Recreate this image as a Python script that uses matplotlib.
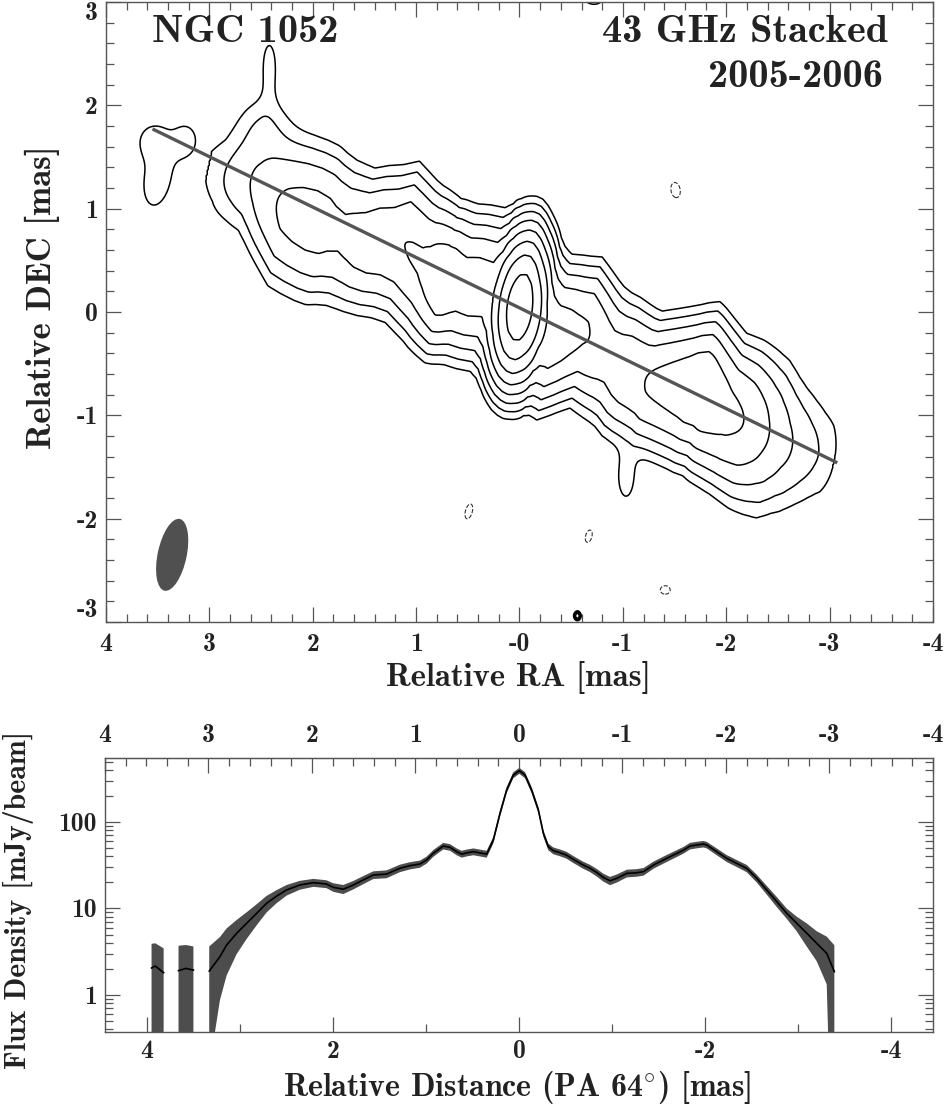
import numpy as np
import matplotlib
matplotlib.use('Agg')
import matplotlib.pyplot as plt
from matplotlib.patches import Ellipse
from matplotlib.ticker import FixedLocator, FixedFormatter, MultipleLocator, LogLocator, NullFormatter

plt.rcParams['axes.unicode_minus'] = False
plt.rcParams['mathtext.fontset'] = 'cm'
FONT = ['cmb10', 'DejaVu Serif']
nan = np.nan

# ---------------- profile along the jet (PA 64 deg) ----------------
PROF_D = [3.95, 3.91, 3.82, nan, 3.66, 3.58, 3.50, nan,
          3.33, 3.215, 3.143, 3.035, 2.928, 2.82, 2.713, 2.606, 2.498, 2.355,
          2.21, 2.07, 1.997, 1.889, 1.781, 1.674, 1.566, 1.423, 1.28, 1.172,
          1.065, 0.993, 0.921, 0.814, 0.742, 0.67, 0.616, 0.562, 0.491, 0.42,
          0.347, 0.276, 0.204, 0.133, 0.061, -0.004, -0.065, -0.136, -0.208,
          -0.262, -0.315, -0.369, -0.44, -0.51, -0.584, -0.69, -0.763, -0.84,
          -0.906, -0.978, -1.05, -1.16, -1.265, -1.34, -1.445, -1.55, -1.66,
          -1.767, -1.839, -1.91, -1.982, -2.018, -2.126, -2.233, -2.34, -2.448,
          -2.556, -2.663, -2.771, -2.878, -2.986, -3.094, -3.2, -3.308, -3.39]
PROF_F = [2.05, 2.16, 1.81, nan, 1.91, 2.03, 1.94, nan,
          1.89, 2.77, 3.78, 5.17, 6.74, 8.8, 11.5, 13.9, 16.4, 18.7,
          19.9, 19.2, 17.6, 16.7, 18.7, 21.4, 24.4, 25.0, 29.2, 31.3,
          32.7, 36.4, 43.5, 52.8, 51.0, 45.4, 42.6, 44.0, 45.4, 44.0,
          42.6, 61.9, 126, 234, 349, 392, 349, 234, 138,
          74, 51.8, 46.6, 44.2, 41.5, 37.0, 31.8, 29.2, 25.9,
          22.9, 20.9, 22.3, 25.5, 25.9, 26.7, 31.8, 36.3, 41.5,
          47.2, 52.8, 54.3, 55.6, 54.3, 45.4, 38.0, 33.3, 29.1,
          22.3, 16.4, 12.0, 8.8, 6.74, 5.17, 3.96, 3.03, 1.86]
PROF_ERR = [1.85, 1.8, 1.65, nan, 1.8, 1.75, 1.7, nan,
            1.75, 1.9, 2.1, 2.2, 2.3, 2.4, 2.5, 2.4, 2.3, 2.2,
            2.1, 2.0, 2.0, 2.0, 2.1, 2.3, 2.5, 2.6, 2.9, 3.0,
            3.1, 3.4, 3.9, 4.6, 4.5, 4.1, 3.9, 4.0, 4.1, 4.0,
            3.9, 5.4, 10.5, 19, 28, 31, 28, 19, 11.5,
            6.3, 4.6, 4.2, 4.0, 3.8, 3.4, 3.0, 2.8, 2.6,
            2.4, 2.3, 2.4, 2.6, 2.6, 2.7, 3.0, 3.4, 3.8,
            4.2, 4.6, 4.7, 4.8, 4.7, 4.1, 3.5, 3.1, 2.8,
            2.3, 1.9, 1.6, 1.2, 1.3, 1.55, 1.5, 1.7, 1.9]

# ---------------- map model (ridge along the jet + extra components) ----------------
CONTOUR_LEVELS = [1.9, 3.8, 7.6, 15.2, 30.4, 60.8, 121.6, 243.2]
NEG_LEVELS = [-1.9]
JET_PA = 64.0
BEAM_PA = -12.0
BEAM_MAJ = 0.71
BEAM_MIN = 0.28
BEAM_CENTER = (3.36, -2.35)
JET_ORIGIN = (0.0, 0.04)
LINE_D = [3.95, -3.42]
RIDGE_MAX_D = 3.4

RIDGE_KNOT_D = [-3.45, -3.27, -2.96, -2.75, -2.27, -1.94, -1.40, -1.07, -0.70, -0.40,
                0.00, 0.25, 0.80, 1.00, 1.28, 1.70, 2.10, 2.50, 2.90, 3.20, 3.40]
RIDGE_OFFSET = [-0.01, -0.01, -0.07, -0.07, -0.04, 0.07, -0.11, -0.08, 0.07, -0.11,
                0.01, 0.05, -0.09, -0.04, 0.08, -0.09, -0.12, -0.14, -0.02, -0.10, -0.10]
RIDGE_WIDTH = [0.80, 0.80, 0.88, 0.93, 0.78, 0.78, 0.70, 0.74, 0.74, 0.76,
               0.77, 0.77, 0.74, 0.78, 0.80, 0.76, 0.85, 0.85, 0.74, 0.73, 0.73]

COMP_RA = [2.48, 2.42, -1.03, 3.50, 3.22, 3.55, -0.72, -0.56, -1.51, 0.49, -0.67, -1.41]
COMP_DEC = [1.82, 2.38, -1.62, 1.30, 1.66, 1.66, 3.03, -2.94, 1.18, -1.93, -2.17, -2.69]
COMP_AMP = [2.6, 2.6, 2.6, 2.7, 2.5, 2.5, 2.5, 30.0, -2.5, -2.5, -2.4, -2.4]
COMP_SX = [0.17, 0.07, 0.08, 0.15, 0.10, 0.11, 0.11, 0.015, 0.06, 0.045, 0.045, 0.07]
COMP_SY = [0.20, 0.25, 0.20, 0.32, 0.14, 0.12, 0.07, 0.02, 0.10, 0.10, 0.09, 0.06]
COMP_PA = [0, 0, 0, -10, 0, 0, 0, 0, 10, -15, -15, 0]

RA_TICKS = [4, 3, 2, 1, 0, -1, -2, -3, -4]
RA_TICK_LABELS = ['4', '3', '2', '1', '-0', '-1', '-2', '-3', '-4']
DEC_TICKS = [-3, -2, -1, 0, 1, 2, 3]
DEC_TICK_LABELS = ['-3', '-2', '-1', '0', '1', '2', '3']
TOP_RA_LABELS = ['4', '3', '2', '1', '0', '-1', '-2', '-3', '-4']
DIST_TICKS = [4, 2, 0, -2, -4]
DIST_TICK_LABELS = ['4', '2', '0', '-2', '-4']
FLUX_TICKS = [1, 10, 100]
FLUX_TICK_LABELS = ['1', '10', '100']

# ---------------- build the model image ----------------
pd_arr = np.array(PROF_D, float)
pf_arr = np.array(PROF_F, float)
pe_arr = np.array(PROF_ERR, float)
ok = np.isfinite(pd_arr) & (pd_arr <= RIDGE_MAX_D)
rd = pd_arr[ok][::-1]
rf = pf_arr[ok][::-1]

ra_g = np.linspace(4.2, -4.2, 841)
dec_g = np.linspace(-3.2, 3.2, 641)
RA, DEC = np.meshgrid(ra_g, dec_g)
jp = np.radians(JET_PA)
bp = np.radians(BEAM_PA)
ux, uy = np.sin(jp), np.cos(jp)
bx, by = np.sin(bp), np.cos(bp)
det = ux * by - uy * bx
X = RA - JET_ORIGIN[0]
Y = DEC - JET_ORIGIN[1]
D = (X * by - Y * bx) / det
S = (ux * Y - uy * X) / det
F = np.interp(D, rd, rf, left=0.0, right=0.0)
S0 = np.interp(D, RIDGE_KNOT_D, RIDGE_OFFSET)
W = np.interp(D, RIDGE_KNOT_D, RIDGE_WIDTH)
A = F * 2.0 ** (4 * S0 ** 2 / W ** 2)
img = A * 2.0 ** (-4 * (S - S0) ** 2 / W ** 2)
for r0, d0, a, sx, sy, pa in zip(COMP_RA, COMP_DEC, COMP_AMP, COMP_SX, COMP_SY, COMP_PA):
    p = np.radians(pa)
    dx, dy = RA - r0, DEC - d0
    along = dx * np.sin(p) + dy * np.cos(p)
    across = dx * np.cos(p) - dy * np.sin(p)
    img = img + a * np.exp(-0.5 * ((across / sx) ** 2 + (along / sy) ** 2))

# ---------------- figure ----------------
W_PX, H_PX = 953, 1105
fig = plt.figure(figsize=(W_PX / 100, H_PX / 100), dpi=100)
ax = fig.add_axes([106 / W_PX, 1 - 622 / H_PX, 827 / W_PX, 620 / H_PX])
ax2 = fig.add_axes([105 / W_PX, 1 - 1032 / H_PX, 828 / W_PX, 274 / H_PX])

spine_c = '#555555'
lab_c = '#222222'

ax.contour(RA, DEC, img, levels=CONTOUR_LEVELS, colors='k', linewidths=1.1)
ax.contour(RA, DEC, img, levels=NEG_LEVELS, colors='#333333', linewidths=0.8,
           linestyles='dashed')
ld = np.array(LINE_D)
ax.plot(JET_ORIGIN[0] + ld * ux, JET_ORIGIN[1] + ld * uy, color='#555555', lw=2.4,
        solid_capstyle='butt', zorder=5)
ax.add_patch(Ellipse(BEAM_CENTER, width=BEAM_MIN, height=BEAM_MAJ, angle=-BEAM_PA,
                     facecolor='#505050', edgecolor='none', zorder=4))
ax.set_xlim(4, -4)
ax.set_ylim(-3, 3)
ax.xaxis.set_major_locator(FixedLocator(RA_TICKS))
ax.xaxis.set_major_formatter(FixedFormatter(RA_TICK_LABELS))
ax.yaxis.set_major_locator(FixedLocator(DEC_TICKS))
ax.yaxis.set_major_formatter(FixedFormatter(DEC_TICK_LABELS))
ax.xaxis.set_minor_locator(MultipleLocator(0.2))
ax.yaxis.set_minor_locator(MultipleLocator(0.2))
ax.tick_params(which='both', direction='in', top=True, right=True, color=spine_c,
               labelcolor=lab_c, width=0.9)
ax.tick_params(which='major', length=11)
ax.tick_params(which='minor', length=6)
ax.tick_params(axis='x', which='major', pad=8)
ax.tick_params(axis='y', which='major', pad=6)
for t in ax.get_xticklabels() + ax.get_yticklabels():
    t.set_family(FONT)
    t.set_fontsize(18.5)
ylabs = ax.get_yticklabels()
ylabs[0].set_va('bottom')
ylabs[-1].set_va('top')
for sp in ax.spines.values():
    sp.set_color(spine_c)
    sp.set_linewidth(1.0)

ax.text(0.056, 0.95, 'NGC 1052', transform=ax.transAxes, family=FONT, fontsize=29,
        ha='left', va='center', color=lab_c)
ax.text(0.946, 0.95, '43 GHz Stacked', transform=ax.transAxes, family=FONT, fontsize=29,
        ha='right', va='center', color=lab_c)
ax.text(0.94, 0.879, '2005-2006', transform=ax.transAxes, family=FONT, fontsize=29,
        ha='right', va='center', color=lab_c)

# ---------------- profile panel ----------------
s64 = np.sin(jp)
lower = np.clip(pf_arr - pe_arr, 1e-3, None)
lower[~np.isfinite(pf_arr)] = nan
upper = pf_arr + pe_arr
ax2.fill_between(pd_arr, lower, upper, color='#4d4d4d', lw=0)
ax2.plot(pd_arr, pf_arr, color='k', lw=1.2)
ax2.set_yscale('log')
ax2.set_xlim(4 / s64, -4 / s64)
ax2.set_ylim(0.373, 550)
ax2.xaxis.set_major_locator(FixedLocator(DIST_TICKS))
ax2.xaxis.set_major_formatter(FixedFormatter(DIST_TICK_LABELS))
ax2.xaxis.set_minor_locator(MultipleLocator(1))
ax2.yaxis.set_major_locator(FixedLocator(FLUX_TICKS))
ax2.yaxis.set_major_formatter(FixedFormatter(FLUX_TICK_LABELS))
ax2.yaxis.set_minor_locator(LogLocator(base=10, subs=np.arange(2, 10)))
ax2.yaxis.set_minor_formatter(NullFormatter())
ax2.tick_params(which='both', direction='in', right=True, top=False, color=spine_c,
                labelcolor=lab_c, width=0.9)
ax2.tick_params(which='major', length=11)
ax2.tick_params(which='minor', length=6)
ax2.tick_params(axis='x', which='major', pad=6)
ax2.tick_params(axis='y', which='major', pad=6)
for t in ax2.get_xticklabels() + ax2.get_yticklabels():
    t.set_family(FONT)
    t.set_fontsize(18.5)
for sp in ax2.spines.values():
    sp.set_color(spine_c)
    sp.set_linewidth(1.0)

sec = ax2.secondary_xaxis('top', functions=(lambda d: d * s64, lambda r: r / s64))
sec.xaxis.set_major_locator(FixedLocator(RA_TICKS))
sec.xaxis.set_major_formatter(FixedFormatter(TOP_RA_LABELS))
sec.xaxis.set_minor_locator(MultipleLocator(0.2))
sec.tick_params(which='both', direction='in', color=spine_c, labelcolor=lab_c, width=0.9)
sec.tick_params(which='major', length=11, pad=8)
sec.tick_params(which='minor', length=6)
sec.spines['top'].set_color(spine_c)
for t in sec.get_xticklabels():
    t.set_family(FONT)
    t.set_fontsize(18.5)

# ---------------- axis labels ----------------
fig.text(518 / W_PX, 1 - 677 / H_PX, 'Relative RA [mas]', family=FONT, fontsize=23.5,
         ha='center', va='center', color=lab_c)
fig.text(42 / W_PX, 1 - 297 / H_PX, 'Relative DEC [mas]', family=FONT, fontsize=25,
         ha='center', va='center', rotation=90, color=lab_c)
fig.text(517 / W_PX, 1 - 1096 / H_PX, r'Relative Distance (PA 64$^{\circ}$) [mas]',
         family=FONT, fontsize=23, ha='center', va='baseline', color=lab_c)
fig.text(18 / W_PX, 1 - 900 / H_PX, 'Flux Density [mJy/beam]', family=FONT, fontsize=21.5,
         ha='center', va='center', rotation=90, color=lab_c)

fig.savefig('out.png', dpi=100)
